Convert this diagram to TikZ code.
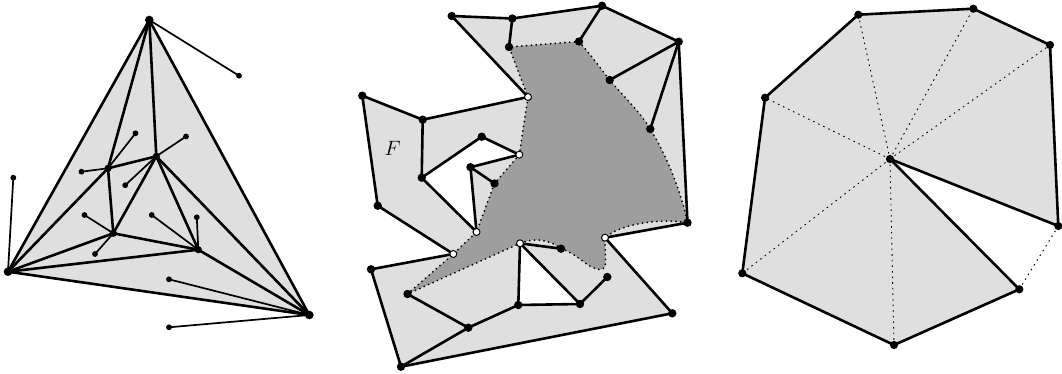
\documentclass[tikz,border=0pt]{standalone}
\usepackage{tikz}
\definecolor{lightfill}{RGB}{223,223,223}
\definecolor{darkfill}{RGB}{158,158,158}
\tikzset{
  thickedge/.style={line width=2.6pt, line cap=round, line join=round},
  thinedge/.style={line width=1.7pt, line cap=round},
  dotbound/.style={line width=2pt, line cap=round, dash pattern=on 0pt off 4.8pt},
  fandot/.style={line width=0.9pt, dash pattern=on 1.6pt off 4pt},
}
\newcommand{\bdot}[2]{\fill (#1) circle (#2pt);}
\newcommand{\wdot}[1]{\filldraw[fill=white, draw=black, line width=1pt] (#1) circle (3.5pt);}
\begin{document}
\begin{tikzpicture}[x=1pt,y=-1pt]
\useasboundingbox (0,0) rectangle (1062,374);

% ---------------- Panel 1 ----------------
\coordinate (T) at (149.3,20);
\coordinate (L) at (8,271.7);
\coordinate (R) at (309.3,315);
\coordinate (A) at (108,168.3);
\coordinate (B) at (156.3,156.3);
\coordinate (C) at (113.3,233.3);
\coordinate (D) at (198.3,249.7);
\coordinate (pT) at (239,75.7);
\coordinate (pL) at (13.3,177.7);
\coordinate (pR1) at (169,279.3);
\coordinate (pR2) at (169,327.3);
\coordinate (pA1) at (135.5,133.3);
\coordinate (pA2) at (81.5,171.7);
\coordinate (pB1) at (186,136.5);
\coordinate (pB2) at (125.2,185.2);
\coordinate (pC1) at (84.5,215);
\coordinate (pC2) at (95,254);
\coordinate (pD1) at (151.7,215);
\coordinate (pD2) at (196.8,217.3);

\fill[lightfill] (T) -- (L) -- (R) -- cycle;
\foreach \a/\b in {T/pT,L/pL,R/pR1,R/pR2,A/pA1,A/pA2,B/pB1,B/pB2,C/pC1,C/pC2,D/pD1,D/pD2}
  \draw[thinedge] (\a) -- (\b);
\foreach \a/\b in {T/L,L/R,R/T,T/A,T/B,L/A,L/C,L/D,R/B,R/D,A/B,A/C,B/C,B/D,C/D}
  \draw[thickedge] (\a) -- (\b);
\foreach \p in {T,L,R} {\bdot{\p}{4.3}}
\foreach \p in {A,B,C,D} {\bdot{\p}{3.6}}
\foreach \p in {pT,pL,pR1,pR2,pA1,pA2,pB1,pB2,pC1,pC2,pD1,pD2} {\bdot{\p}{2.9}}

% ---------------- Panel 2 ----------------
\coordinate (P1) at (451.7,16);
\coordinate (P2) at (512.3,18.5);
\coordinate (P3) at (602,5.7);
\coordinate (P4) at (678.7,41.7);
\coordinate (P5) at (687.5,222.7);
\coordinate (P6) at (672.3,313.3);
\coordinate (P7) at (401,366.7);
\coordinate (P8) at (371,269.3);
\coordinate (P9) at (453.3,254);
\coordinate (P10) at (377.7,205.7);
\coordinate (P11) at (362.3,95.7);
\coordinate (P12) at (422.7,119.7);
\coordinate (P13) at (528,97);
\coordinate (P14) at (421.7,177.7);
\coordinate (P15) at (476.5,232);
\coordinate (P16) at (470.5,167.2);
\coordinate (P17) at (494.5,183.5);
\coordinate (P18) at (519.3,154.7);
\coordinate (P19) at (481.7,136.7);
\coordinate (P20) at (509,47);
\coordinate (P21) at (579,41.5);
\coordinate (P22) at (609.7,80);
\coordinate (P23) at (650.3,129);
\coordinate (P24) at (520,243.3);
\coordinate (P25) at (561,248.7);
\coordinate (P26) at (605,237.7);
\coordinate (P27) at (607.3,277);
\coordinate (P28) at (580,304);
\coordinate (P29) at (518.3,305);
\coordinate (P30) at (468.3,327.7);
\coordinate (P31) at (407.5,294);

\fill[lightfill] (P1) -- (P2) -- (P3) -- (P4) -- (P5) -- (P26) -- (P6) -- (P7)
  -- (P8) -- (P9) -- (P10) -- (P11) -- (P12) -- (P13) -- cycle;
\fill[white] (P14) -- (P19) -- (P18) -- (P16) -- (P15) -- cycle;
\fill[white] (P24) -- (P29) -- (P28) -- cycle;

\def\darkpath{(P31) -- (P9) -- (P15) -- (P17) -- (P18) -- (P13) -- (P20) -- (P21)
  .. controls (595,60) and (600,68) .. (P22)
  .. controls (625,98) and (640,112) .. (P23)
  .. controls (668,158) and (682,195) .. (P5)
  .. controls (660,218) and (620,224) .. (P26)
  -- (605.5,262) .. controls (605.8,272) and (598,271) .. (588,265)
  .. controls (578,258) and (570,251) .. (P25)
  .. controls (550,240) and (535,237) .. (P24) -- cycle}
\fill[darkfill] \darkpath;
\draw[dotbound] \darkpath;

\foreach \a/\b in {P1/P2,P2/P3,P3/P4,P4/P5,P5/P26,P26/P6,P6/P7,P7/P8,P8/P9,P9/P10,P10/P11,P11/P12,P12/P13,P13/P1,
  P2/P20,P3/P21,P4/P22,P4/P23,
  P12/P14,P14/P19,P19/P18,P18/P16,P16/P17,P16/P15,P15/P14,
  P24/P25,P24/P29,P24/P28,P29/P28,P28/P27,P29/P30,P30/P31,P30/P7}
  \draw[thickedge] (\a) -- (\b);
\foreach \p in {P1,P2,P3,P4,P5,P6,P7,P8,P10,P11,P12,P14,P16,P17,P19,P20,P21,P22,P23,P25,P27,P28,P29,P30,P31} {\bdot{\p}{4.2}}
\foreach \p in {P9,P13,P15,P18,P24,P26} {\wdot{\p}}
\node[font=\fontsize{20}{20}\selectfont] (F) at (392.5,148.3) {$F$};

% ---------------- Panel 3 ----------------
\coordinate (Z) at (890,159);
\coordinate (Q1) at (858.3,14.7);
\coordinate (Q2) at (973.3,8.7);
\coordinate (Q3) at (1050,45);
\coordinate (Q4) at (1058.3,226);
\coordinate (Q5) at (1019.3,289.3);
\coordinate (Q6) at (894,345);
\coordinate (Q7) at (742.3,273.3);
\coordinate (Q8) at (765,97.7);

\fill[lightfill] (Q1) -- (Q2) -- (Q3) -- (Q4) -- (Z) -- (Q5) -- (Q6) -- (Q7) -- (Q8) -- cycle;
\foreach \b in {Q1,Q2,Q3,Q6,Q7,Q8}
  \draw[fandot] (Z) -- (\b);
\draw[fandot] (Q4) -- (Q5);
\foreach \a/\b in {Q1/Q2,Q2/Q3,Q3/Q4,Q4/Z,Z/Q5,Q5/Q6,Q6/Q7,Q7/Q8,Q8/Q1}
  \draw[thickedge] (\a) -- (\b);
\foreach \p in {Z,Q1,Q2,Q3,Q4,Q5,Q6,Q7,Q8} {\bdot{\p}{4.1}}
\end{tikzpicture}
\end{document}
